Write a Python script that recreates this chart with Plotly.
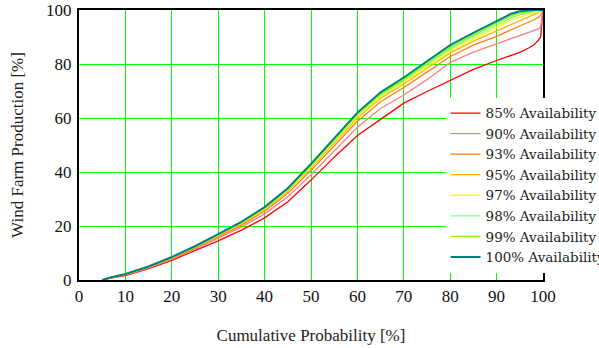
import plotly.graph_objects as go

# Cumulative probability [%]
x_prob = [5, 7, 10, 15, 20, 25, 30, 35, 40, 45, 50, 55, 60, 65, 70, 75, 80, 85, 90, 93, 95, 97, 98, 99, 99.5, 100]

# Wind farm production [%] per availability level
prod_85 = [0, 0.8, 1.6, 4.2, 7.3, 10.8, 14.5, 18.5, 23.0, 29.0, 37.0, 45.5, 53.5, 59.5, 65.5, 69.8, 73.8, 78.0, 81.3, 83.0, 84.3, 86.0, 87.0, 88.8, 90.0, 100]
prod_90 = [0, 0.9, 1.9, 4.5, 7.7, 11.4, 15.5, 19.6, 24.5, 30.8, 39.0, 47.8, 56.6, 63.5, 68.5, 74.2, 80.6, 84.4, 87.4, 89.4, 90.6, 91.7, 92.3, 93.0, 93.8, 100]
prod_93 = [0, 0.9, 2.0, 4.7, 8.0, 11.8, 16.0, 20.3, 25.5, 32.1, 40.6, 49.6, 58.8, 66.0, 71.3, 77.0, 82.8, 87.0, 90.2, 92.6, 94.0, 95.5, 96.3, 97.3, 98.0, 100]
prod_95 = [0, 1.0, 2.1, 4.8, 8.2, 12.1, 16.4, 20.8, 26.1, 32.9, 41.6, 50.8, 60.0, 67.3, 72.6, 78.4, 84.1, 88.5, 92.3, 94.8, 96.2, 97.6, 98.3, 99.0, 99.5, 100]
prod_97 = [0, 1.0, 2.1, 4.9, 8.3, 12.2, 16.6, 21.0, 26.4, 33.2, 42.0, 51.3, 60.6, 67.9, 73.3, 79.1, 84.9, 89.3, 93.6, 96.2, 97.4, 98.6, 99.1, 99.6, 99.8, 100]
prod_98 = [0, 1.0, 2.2, 4.9, 8.4, 12.3, 16.7, 21.2, 26.6, 33.5, 42.4, 51.7, 61.1, 68.5, 73.9, 79.8, 85.6, 90.1, 94.5, 97.0, 98.2, 99.2, 99.5, 99.8, 100, 100]
prod_99 = [0, 1.0, 2.2, 5.0, 8.4, 12.4, 16.8, 21.3, 26.8, 33.7, 42.6, 52.0, 61.5, 68.9, 74.3, 80.3, 86.1, 90.7, 95.2, 97.8, 98.9, 99.6, 99.8, 100, 100, 100]
prod_100 = [0, 1.0, 2.2, 5.0, 8.5, 12.5, 17.0, 21.5, 27.0, 34.0, 43.0, 52.5, 62.0, 69.5, 75.0, 81.0, 87.0, 91.5, 96.0, 98.5, 99.5, 100, 100, 100, 100, 100]

series_names = ["85% Availability", "90% Availability", "93% Availability", "95% Availability",
                "97% Availability", "98% Availability", "99% Availability", "100% Availability"]
series_values = [prod_85, prod_90, prod_93, prod_95, prod_97, prod_98, prod_99, prod_100]
series_colors = ["#ff0000", "#ff8080", "#ff8000", "#ffb000", "#ffff00", "#80ff80", "#80ff00", "#008080"]
series_widths = [1.3, 1.3, 1.3, 1.3, 1.3, 1.3, 1.3, 2.0]

x_ticks = [0, 10, 20, 30, 40, 50, 60, 70, 80, 90, 100]
y_ticks = [0, 20, 40, 60, 80, 100]

fig = go.Figure()
for name, vals, col, w in zip(series_names, series_values, series_colors, series_widths):
    fig.add_trace(go.Scatter(x=x_prob, y=vals, mode="lines", name=name,
                             line=dict(color=col, width=w)))

font_family = "Liberation Serif, Times New Roman, serif"
legend_family = "DejaVu Serif, Liberation Serif, serif"
fig.update_layout(
    width=599, height=348,
    margin=dict(l=79, r=56, t=10, b=68, autoexpand=False),
    paper_bgcolor="white", plot_bgcolor="white",
    font=dict(family=font_family, size=17, color="black"),
    showlegend=True,
    legend=dict(x=0.79, y=0.675, xanchor="left", yanchor="top",
                bgcolor="white", borderwidth=0,
                font=dict(family=legend_family, size=13.5, color="#222"),
                tracegroupgap=0),
    xaxis=dict(range=[0, 100], tickvals=x_ticks, showgrid=True, gridcolor="#00ff00", gridwidth=1,
               showline=True, linecolor="black", linewidth=2, mirror=True, ticks="",
               zeroline=False, ticklabelstandoff=0,
               tickfont=dict(family=font_family, size=17, color="#111"),
               title=dict(text="Cumulative Probability [%]",
                          font=dict(family=font_family, size=17, color="#222"), standoff=24)),
    yaxis=dict(range=[0, 100], tickvals=y_ticks, showgrid=True, gridcolor="#00ff00", gridwidth=1,
               showline=True, linecolor="black", linewidth=2, mirror=True, ticks="",
               zeroline=False, ticklabelstandoff=2,
               tickfont=dict(family=font_family, size=17, color="#111"),
               title=dict(text="Wind Farm Production [%]",
                          font=dict(family=font_family, size=17, color="#222"), standoff=18)),
)

fig.write_html("out.html", config={"displayModeBar": False},
               post_script="document.body.style.margin='0';")
